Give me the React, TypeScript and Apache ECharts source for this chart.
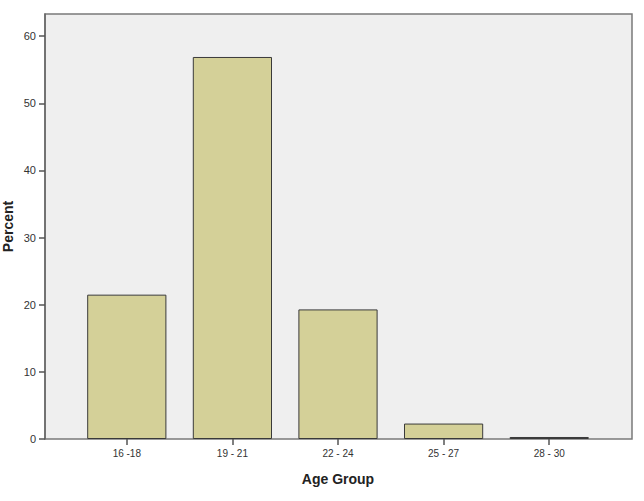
import React, { useEffect, useRef } from "react";
import * as echarts from "echarts";

const categories = ["16 -18", "19 - 21", "22 - 24", "25 - 27", "28 - 30"];
const percentValues = [21.5, 56.9, 19.3, 2.3, 0.3];
const yTickStep = 10;
const yMax = 63.3;

export default function App() {
  const ref = useRef<HTMLDivElement>(null);
  useEffect(() => {
    if (!ref.current) return;
    const chart = echarts.init(ref.current, null, { renderer: "svg" });
    const font = "'Liberation Sans', Arial, sans-serif";
    chart.setOption({
      animation: false,
      backgroundColor: "#ffffff",
      grid: [
        {
          left: 45, right: 12, top: 14, bottom: 62, outerBoundsMode: "none", containLabel: false,
          show: true, backgroundColor: "#efefef", borderColor: "#7a7a7a", borderWidth: 1.5,
        },
        { left: 74, right: 42, top: 14, bottom: 62, outerBoundsMode: "none", containLabel: false },
      ],
      xAxis: [
        { type: "value", gridIndex: 0, show: false, min: 0, max: 1 },
        {
          type: "category", gridIndex: 1, data: categories,
          axisLine: { show: false },
          axisTick: { show: true, inside: false, alignWithLabel: true, length: 6, lineStyle: { color: "#555", width: 1.5 } },
          axisLabel: { color: "#333", fontSize: 10, fontFamily: font, margin: 9 },
          name: "Age Group", nameLocation: "middle", nameGap: 33,
          nameTextStyle: { color: "#222", fontSize: 14, fontWeight: "bold", fontFamily: font },
        },
      ],
      yAxis: [
        {
          type: "value", gridIndex: 0, min: 0, max: yMax, interval: yTickStep, position: "left",
          axisLine: { show: true, onZero: false, lineStyle: { color: "#666", width: 1.5 } },
          axisTick: { show: true, inside: false, length: 6, lineStyle: { color: "#555", width: 1.5 } },
          axisLabel: {
            color: "#333", fontSize: 11, fontFamily: font, margin: 9, showMaxLabel: false,
            formatter: (v: number) => (v % yTickStep === 0 ? String(v) : ""),
          },
          splitLine: { show: false },
          name: "Percent", nameLocation: "middle", nameGap: 30, nameMoveOverlap: false,
          nameTextStyle: { color: "#222", fontSize: 14, lineHeight: 14, fontWeight: "bold", fontFamily: font },
        },
        { type: "value", gridIndex: 1, min: 0, max: yMax, show: false },
      ],
      series: [
        {
          type: "bar", xAxisIndex: 1, yAxisIndex: 1, data: percentValues,
          barCategoryGap: "25%",
          itemStyle: { color: "#d4d098", borderColor: "#3a3a3a", borderWidth: 1 },
        },
      ],
    });
    return () => chart.dispose();
  }, []);
  return <div ref={ref} style={{ position: "fixed", left: 0, top: 0, width: 644, height: 501 }} />;
}
